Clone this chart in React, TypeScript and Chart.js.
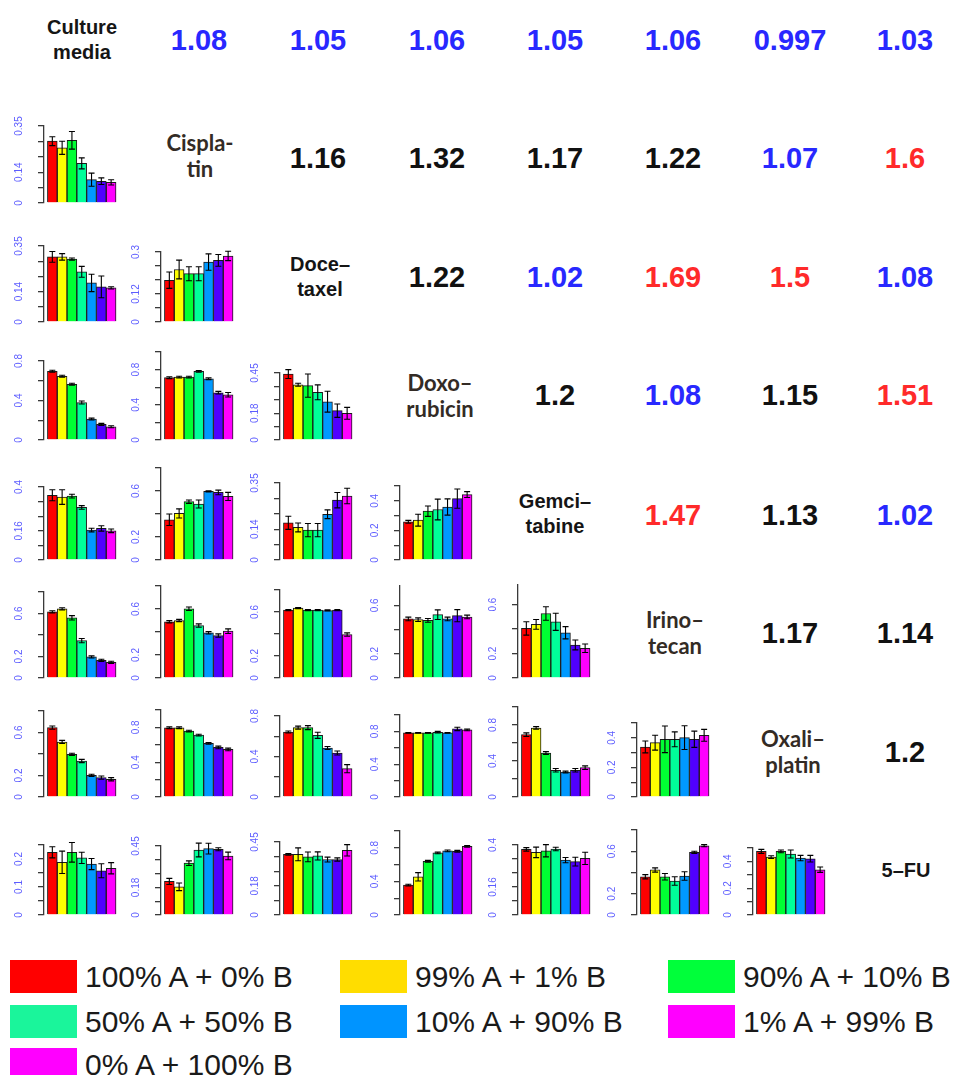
import React, { useEffect, useRef } from "react";
import { Chart, registerables } from "chart.js";

Chart.register(...registerables);

// ---------------- DATA ----------------
const drugLabels = ["Culture\nmedia", "Cispla-\ntin", "Doce\u2013\ntaxel", "Doxo\u2013\nrubicin", "Gemci\u2013\ntabine", "Irino\u2013\ntecan", "Oxali\u2013\nplatin", "5\u2013FU"];

const legendLabels = ["100% A + 0% B", "99% A + 1% B", "90% A + 10% B", "50% A + 50% B", "10% A + 90% B", "1% A + 99% B", "0% A + 100% B"];

// upper-triangle ratios, one array per row (columns to the right of the diagonal)
const ratiosMedia = [1.08, 1.05, 1.06, 1.05, 1.06, 0.997, 1.03];
const ratiosCisplatin = [1.16, 1.32, 1.17, 1.22, 1.07, 1.6];
const ratiosDocetaxel = [1.22, 1.02, 1.69, 1.5, 1.08];
const ratiosDoxorubicin = [1.2, 1.08, 1.15, 1.51];
const ratiosGemcitabine = [1.47, 1.13, 1.02];
const ratiosIrinotecan = [1.17, 1.14];
const ratiosOxaliplatin = [1.2];

// lower-triangle bar panels (row drug vs column drug)
const cisMedia = [0.281, 0.251, 0.285, 0.18, 0.106, 0.099, 0.094];
const cisMediaErr = [0.02, 0.03, 0.04, 0.025, 0.03, 0.015, 0.012];

const docMedia = [0.3, 0.3, 0.29, 0.231, 0.18, 0.162, 0.157];
const docMediaErr = [0.025, 0.015, 0.005, 0.025, 0.04, 0.05, 0.005];
const docCis = [0.179, 0.225, 0.207, 0.207, 0.257, 0.264, 0.283];
const docCisErr = [0.035, 0.04, 0.03, 0.03, 0.035, 0.025, 0.02];

const doxMedia = [0.696, 0.645, 0.565, 0.38, 0.212, 0.158, 0.134];
const doxMediaErr = [0.01, 0.01, 0.01, 0.015, 0.01, 0.01, 0.01];
const doxCis = [0.708, 0.715, 0.715, 0.78, 0.696, 0.537, 0.514];
const doxCisErr = [0.01, 0.01, 0.01, 0.01, 0.01, 0.015, 0.025];
const doxDoc = [0.443, 0.371, 0.365, 0.32, 0.257, 0.197, 0.179];
const doxDocErr = [0.03, 0.01, 0.078, 0.05, 0.07, 0.045, 0.04];

const gemMedia = [0.355, 0.345, 0.35, 0.288, 0.164, 0.173, 0.16];
const gemMediaErr = [0.03, 0.04, 0.01, 0.01, 0.01, 0.015, 0.01];
const gemCis = [0.35, 0.405, 0.507, 0.487, 0.597, 0.588, 0.553];
const gemCisErr = [0.05, 0.04, 0.015, 0.035, 0.005, 0.02, 0.035];
const gemDoc = [0.169, 0.148, 0.136, 0.136, 0.208, 0.272, 0.291];
const gemDocErr = [0.03, 0.02, 0.03, 0.03, 0.02, 0.035, 0.035];
const gemDox = [0.258, 0.269, 0.33, 0.341, 0.358, 0.415, 0.442];
const gemDoxErr = [0.01, 0.04, 0.035, 0.07, 0.055, 0.065, 0.02];

const iriMedia = [0.616, 0.644, 0.56, 0.348, 0.196, 0.165, 0.146];
const iriMediaErr = [0.01, 0.01, 0.02, 0.02, 0.01, 0.01, 0.01];
const iriCis = [0.489, 0.5, 0.602, 0.456, 0.393, 0.369, 0.407];
const iriCisErr = [0.01, 0.01, 0.015, 0.015, 0.01, 0.015, 0.02];
const iriDoc = [0.617, 0.635, 0.617, 0.617, 0.614, 0.617, 0.395];
const iriDocErr = [0.005, 0.005, 0.005, 0.005, 0.005, 0.005, 0.015];
const iriDox = [0.488, 0.482, 0.476, 0.523, 0.488, 0.515, 0.504];
const iriDoxErr = [0.015, 0.015, 0.015, 0.04, 0.015, 0.05, 0.015];
const iriGem = [0.405, 0.438, 0.527, 0.459, 0.37, 0.27, 0.243];
const iriGemErr = [0.055, 0.04, 0.055, 0.07, 0.05, 0.04, 0.035];

const oxaMedia = [0.645, 0.512, 0.397, 0.335, 0.202, 0.18, 0.165];
const oxaMediaErr = [0.015, 0.015, 0.01, 0.015, 0.01, 0.015, 0.015];
const oxaCis = [0.796, 0.796, 0.758, 0.712, 0.616, 0.57, 0.547];
const oxaCisErr = [0.01, 0.01, 0.01, 0.01, 0.01, 0.015, 0.015];
const oxaDoc = [0.642, 0.685, 0.685, 0.609, 0.484, 0.435, 0.28];
const oxaDocErr = [0.01, 0.015, 0.02, 0.03, 0.015, 0.02, 0.04];
const oxaDox = [0.782, 0.782, 0.782, 0.79, 0.782, 0.83, 0.818];
const oxaDoxErr = [0.005, 0.005, 0.005, 0.01, 0.005, 0.02, 0.01];
const oxaGem = [0.693, 0.767, 0.489, 0.297, 0.278, 0.297, 0.326];
const oxaGemErr = [0.02, 0.015, 0.015, 0.02, 0.01, 0.02, 0.02];
const oxaIri = [0.338, 0.367, 0.39, 0.39, 0.401, 0.39, 0.417];
const oxaIriErr = [0.04, 0.05, 0.09, 0.05, 0.08, 0.055, 0.04];

const fuMedia = [0.224, 0.188, 0.224, 0.204, 0.182, 0.158, 0.167];
const fuMediaErr = [0.02, 0.04, 0.035, 0.02, 0.02, 0.025, 0.02];
const fuCis = [0.219, 0.184, 0.338, 0.424, 0.433, 0.429, 0.385];
const fuCisErr = [0.02, 0.025, 0.015, 0.045, 0.035, 0.01, 0.025];
const fuDoc = [0.374, 0.374, 0.358, 0.364, 0.342, 0.342, 0.399];
const fuDocErr = [0.005, 0.04, 0.03, 0.025, 0.015, 0.01, 0.035];
const fuDox = [0.356, 0.455, 0.64, 0.739, 0.763, 0.759, 0.818];
const fuDoxErr = [0.01, 0.05, 0.01, 0.01, 0.01, 0.01, 0.01];
const fuGem = [0.375, 0.358, 0.367, 0.377, 0.314, 0.305, 0.324];
const fuGemErr = [0.01, 0.03, 0.035, 0.01, 0.015, 0.025, 0.035];
const fuIri = [0.36, 0.424, 0.36, 0.32, 0.367, 0.59, 0.652];
const fuIriErr = [0.02, 0.02, 0.03, 0.04, 0.04, 0.01, 0.01];
const fuOxa = [0.475, 0.432, 0.475, 0.455, 0.425, 0.42, 0.338];
const fuOxaErr = [0.015, 0.01, 0.01, 0.03, 0.02, 0.025, 0.02];

// y-axis ranges and labelled ticks per panel
type PanelDef = { r: number; c: number; v: number[]; e: number[]; max: number; step: number; lab: number[] };
const panelDefs: PanelDef[] = [
  { r: 1, c: 0, v: cisMedia, e: cisMediaErr, max: 0.35, step: 0.07, lab: [0, 0.14, 0.35] },
  { r: 2, c: 0, v: docMedia, e: docMediaErr, max: 0.35, step: 0.07, lab: [0, 0.14, 0.35] },
  { r: 2, c: 1, v: docCis, e: docCisErr, max: 0.3, step: 0.06, lab: [0, 0.12, 0.3] },
  { r: 3, c: 0, v: doxMedia, e: doxMediaErr, max: 0.8, step: 0.2, lab: [0, 0.4, 0.8] },
  { r: 3, c: 1, v: doxCis, e: doxCisErr, max: 1.0, step: 0.2, lab: [0, 0.4, 0.8] },
  { r: 3, c: 2, v: doxDoc, e: doxDocErr, max: 0.45, step: 0.09, lab: [0, 0.18, 0.45] },
  { r: 4, c: 0, v: gemMedia, e: gemMediaErr, max: 0.4, step: 0.08, lab: [0, 0.16, 0.4] },
  { r: 4, c: 1, v: gemCis, e: gemCisErr, max: 0.8, step: 0.2, lab: [0, 0.2, 0.6] },
  { r: 4, c: 2, v: gemDoc, e: gemDocErr, max: 0.35, step: 0.07, lab: [0, 0.14, 0.35] },
  { r: 4, c: 3, v: gemDox, e: gemDoxErr, max: 0.5, step: 0.1, lab: [0, 0.2, 0.4] },
  { r: 5, c: 0, v: iriMedia, e: iriMediaErr, max: 0.8, step: 0.2, lab: [0, 0.2, 0.6] },
  { r: 5, c: 1, v: iriCis, e: iriCisErr, max: 0.8, step: 0.2, lab: [0, 0.2, 0.6] },
  { r: 5, c: 2, v: iriDoc, e: iriDocErr, max: 0.8, step: 0.2, lab: [0, 0.2, 0.6] },
  { r: 5, c: 3, v: iriDox, e: iriDoxErr, max: 0.76, step: 0.2, lab: [0, 0.2, 0.6] },
  { r: 5, c: 4, v: iriGem, e: iriGemErr, max: 0.76, step: 0.2, lab: [0, 0.2, 0.6] },
  { r: 6, c: 0, v: oxaMedia, e: oxaMediaErr, max: 0.8, step: 0.2, lab: [0, 0.2, 0.6] },
  { r: 6, c: 1, v: oxaCis, e: oxaCisErr, max: 1.0, step: 0.2, lab: [0, 0.4, 0.8] },
  { r: 6, c: 2, v: oxaDoc, e: oxaDocErr, max: 0.8, step: 0.2, lab: [0, 0.4, 0.8] },
  { r: 6, c: 3, v: oxaDox, e: oxaDoxErr, max: 1.0, step: 0.2, lab: [0, 0.4, 0.8] },
  { r: 6, c: 4, v: oxaGem, e: oxaGemErr, max: 1.0, step: 0.2, lab: [0, 0.4, 0.8] },
  { r: 6, c: 5, v: oxaIri, e: oxaIriErr, max: 0.5, step: 0.1, lab: [0, 0.2, 0.4] },
  { r: 7, c: 0, v: fuMedia, e: fuMediaErr, max: 0.25, step: 0.05, lab: [0, 0.1, 0.2] },
  { r: 7, c: 1, v: fuCis, e: fuCisErr, max: 0.45, step: 0.09, lab: [0, 0.18, 0.45] },
  { r: 7, c: 2, v: fuDoc, e: fuDocErr, max: 0.45, step: 0.09, lab: [0, 0.18, 0.45] },
  { r: 7, c: 3, v: fuDox, e: fuDoxErr, max: 1.0, step: 0.2, lab: [0, 0.4, 0.8] },
  { r: 7, c: 4, v: fuGem, e: fuGemErr, max: 0.4, step: 0.08, lab: [0, 0.16, 0.4] },
  { r: 7, c: 5, v: fuIri, e: fuIriErr, max: 0.8, step: 0.2, lab: [0, 0.2, 0.6] },
  { r: 7, c: 6, v: fuOxa, e: fuOxaErr, max: 0.5, step: 0.1, lab: [0, 0.2, 0.4] },
];

const ratioRows = [ratiosMedia, ratiosCisplatin, ratiosDocetaxel, ratiosDoxorubicin, ratiosGemcitabine, ratiosIrinotecan, ratiosOxaliplatin];

// ---------------- LAYOUT / STYLE ----------------
const barColors = ["#ff0000", "#ffff00", "#00ff33", "#00ff99", "#0099ff", "#5000ff", "#ff00ff"];
const legendColors = ["#ff0000", "#ffdd00", "#00ff3a", "#1af59b", "#0094ff", "#ff00ff", "#ff00ff"];

const cellX = [82, 200, 320, 440, 555, 675, 793, 906];
const cellY = [40, 156, 277, 396, 514, 633, 752, 870];
const numX = [82, 199, 318, 437, 555, 673, 790, 905];
const numY = [40, 158, 277, 395, 515, 633, 752, 870];

const axisX = [44, 161, 280, 400, 518, 637, 753];
const rowBase = [0, 203, 322, 440, 560, 678, 797, 915];
const panelHeights = [
  [],
  [77],
  [76, 70],
  [79, 88, 67],
  [73, 92, 77, 74],
  [86, 92, 88, 92, 93],
  [86, 87, 81, 82, 90, 74],
  [70, 69, 73, 84, 70, 85, 67],
];

const AXIS_W = 40;
const PLOT_W = 74;
const CANVAS_W = AXIS_W + PLOT_W + 4;
const CANVAS_H = 114;
const PAD_BOTTOM = 12;

function ratioColor(v: number) {
  if (v < 1.1) return "#2828ff";
  if (v > 1.4) return "#ff2a2a";
  return "#111111";
}

function Panel({ def }: { def: PanelDef }) {
  const ref = useRef<HTMLCanvasElement>(null);
  const h = panelHeights[def.r][def.c];
  const left = axisX[def.c] - AXIS_W;
  const top = rowBase[def.r] - (CANVAS_H - PAD_BOTTOM);

  useEffect(() => {
    const tickVals: number[] = [];
    for (let k = 0; k * def.step <= def.max + 1e-9; k++) tickVals.push(+(k * def.step).toFixed(4));

    const errPlugin = {
      id: "errbars",
      afterDatasetsDraw(chart: any) {
        const meta = chart.getDatasetMeta(0);
        const ys = chart.scales.y;
        const ctx = chart.ctx;
        ctx.save();
        ctx.strokeStyle = "#000";
        ctx.lineWidth = 1.1;
        meta.data.forEach((el: any, i: number) => {
          const v = def.v[i];
          const e = def.e[i];
          const x = el.x;
          const yt = ys.getPixelForValue(v + e);
          const yb = ys.getPixelForValue(Math.max(0, v - e));
          const cap = 3;
          ctx.beginPath();
          ctx.moveTo(x, yt);
          ctx.lineTo(x, yb);
          ctx.moveTo(x - cap, yt);
          ctx.lineTo(x + cap, yt);
          ctx.moveTo(x - cap, yb);
          ctx.lineTo(x + cap, yb);
          ctx.stroke();
        });
        ctx.restore();
      },
    };

    const labelPlugin = {
      id: "ylabels",
      afterDraw(chart: any) {
        const ys = chart.scales.y;
        const ctx = chart.ctx;
        ctx.save();
        ctx.fillStyle = "#5c5cff";
        ctx.font = '10px "Liberation Sans", Arial, sans-serif';
        ctx.textAlign = "center";
        ctx.textBaseline = "middle";
        for (const v of def.lab) {
          const py = ys.getPixelForValue(v);
          ctx.save();
          ctx.translate(chart.chartArea.left - 25, py);
          ctx.rotate(-Math.PI / 2);
          ctx.fillText(String(v), 0, 0);
          ctx.restore();
        }
        ctx.restore();
      },
    };

    const chart = new Chart(ref.current as HTMLCanvasElement, {
      type: "bar",
      data: {
        datasets: [
          {
            data: def.v.map((y, i) => ({ x: i, y })),
            backgroundColor: barColors,
            borderColor: "#1a1a1a",
            borderWidth: 1,
            barPercentage: 1,
            categoryPercentage: 1,
          } as any,
        ],
      },
      options: {
        animation: false,
        responsive: false,
        maintainAspectRatio: false,
        layout: { padding: { top: CANVAS_H - PAD_BOTTOM - h, bottom: PAD_BOTTOM, left: 0, right: CANVAS_W - AXIS_W - PLOT_W } },
        plugins: { legend: { display: false }, tooltip: { enabled: false } },
        scales: {
          x: { type: "linear", min: -0.85, max: 6.7, display: false, offset: false },
          y: {
            min: 0,
            max: def.max,
            ticks: { display: false },
            grid: { display: true, drawOnChartArea: false, drawTicks: true, tickLength: 6, color: "#3a3a3a", lineWidth: 1.3 },
            border: { display: true, color: "#3a3a3a", width: 1.3 },
            afterBuildTicks: (axis: any) => {
              axis.ticks = tickVals.map((value) => ({ value }));
            },
            afterFit: (s: any) => {
              s.width = AXIS_W;
            },
          },
        },
      } as any,
      plugins: [errPlugin, labelPlugin],
    });
    return () => chart.destroy();
  }, []);

  return (
    <canvas
      ref={ref}
      width={CANVAS_W}
      height={CANVAS_H}
      style={{ position: "absolute", left, top, width: CANVAS_W, height: CANVAS_H }}
    />
  );
}

const calibriLike = new Set([1, 3, 5, 6]);

export default function App() {
  const legendLeft = [10, 340, 668];
  const legendTop = [960, 1005, 1048];
  return (
    <div
      style={{
        position: "absolute",
        left: 0,
        top: 0,
        width: 957,
        height: 1075,
        overflow: "hidden",
        background: "#fff",
        fontFamily: '"Liberation Sans", Arial, sans-serif',
      }}
    >
      {drugLabels.map((t, i) => (
        <div
          key={"d" + i}
          style={{
            position: "absolute",
            left: cellX[i],
            top: cellY[i],
            transform: "translate(-50%, -50%)",
            textAlign: "center",
            whiteSpace: "pre",
            fontWeight: 700,
            fontFamily: calibriLike.has(i) ? "Lato, sans-serif" : '"Liberation Sans", Arial, sans-serif',
            fontSize: calibriLike.has(i) ? 22 : 20,
            lineHeight: calibriLike.has(i) ? "26px" : "25px",
            color: calibriLike.has(i) ? "#332b25" : "#151515",
          }}
        >
          {t}
        </div>
      ))}

      {ratioRows.map((row, r) =>
        row.map((v, k) => {
          const c = r + 1 + k;
          return (
            <div
              key={"n" + r + "-" + c}
              style={{
                position: "absolute",
                left: numX[c],
                top: numY[r],
                transform: "translate(-50%, -50%)",
                whiteSpace: "nowrap",
                fontWeight: 700,
                fontSize: 29,
                lineHeight: "30px",
                color: ratioColor(v),
              }}
            >
              {String(v)}
            </div>
          );
        })
      )}

      {panelDefs.map((d) => (
        <Panel key={d.r + "-" + d.c} def={d} />
      ))}

      {legendLabels.map((t, i) => {
        const col = i % 3;
        const row = Math.floor(i / 3);
        return (
          <React.Fragment key={"l" + i}>
            <div
              style={{
                position: "absolute",
                left: legendLeft[col],
                top: legendTop[row],
                width: 67,
                height: 33,
                background: legendColors[i],
              }}
            />
            <div
              style={{
                position: "absolute",
                left: legendLeft[col] + 75,
                top: legendTop[row] + 17,
                transform: "translateY(-50%)",
                whiteSpace: "nowrap",
                fontSize: 30,
                lineHeight: "32px",
                color: "#1a1a1a",
              }}
            >
              {t}
            </div>
          </React.Fragment>
        );
      })}
    </div>
  );
}
